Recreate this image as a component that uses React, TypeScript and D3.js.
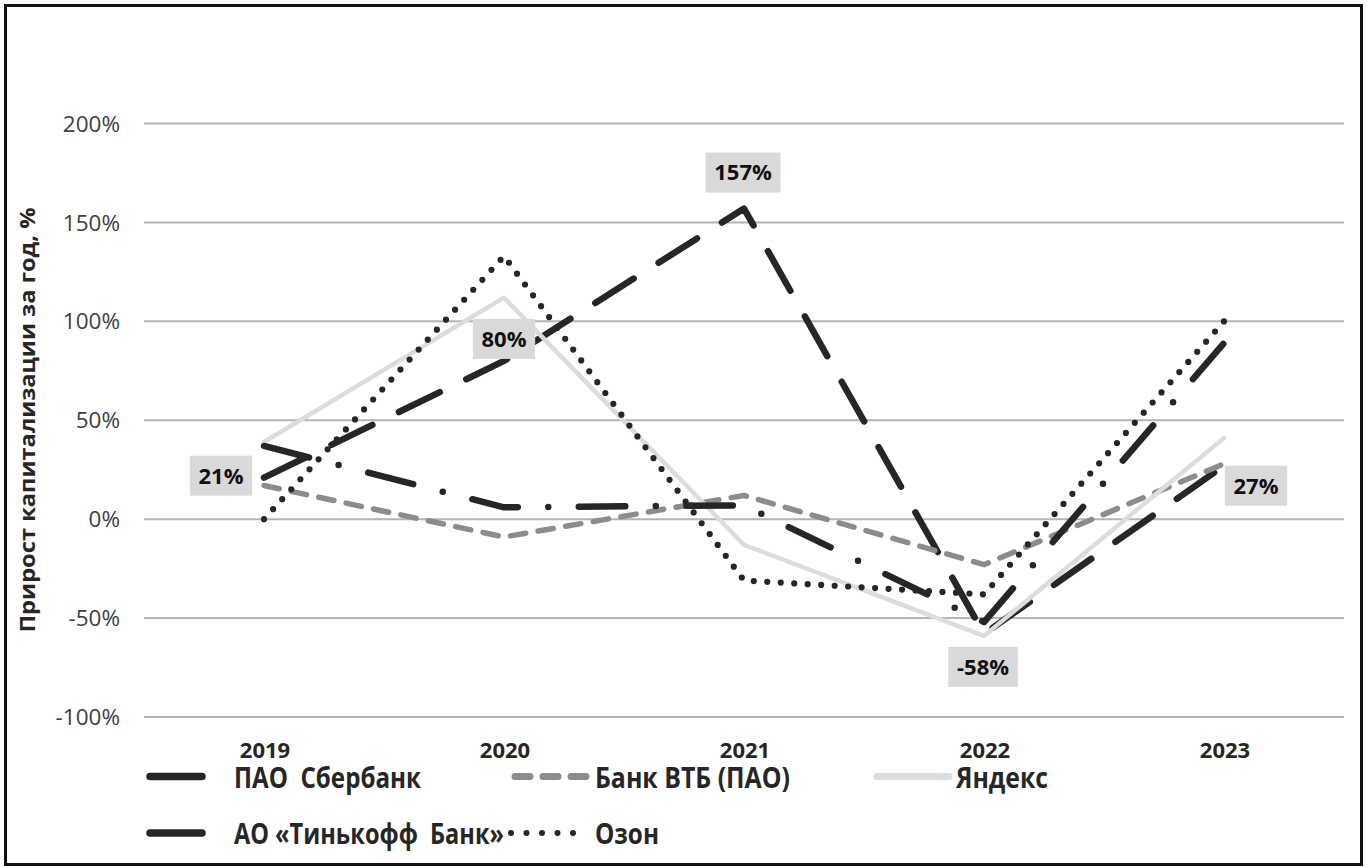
import React from 'react';
import * as d3 from 'd3';

const years = ['2019', '2020', '2021', '2022', '2023'];
const sberValues = [21, 80, 157, -58, 27];
const vtbValues = [17, -9, 12, -23, 28];
const yandexValues = [39, 112, -13, -59, 41];
const tinkoffValues = [37, 6, 7, -52, 89];
const ozonValues = [0, 133, -31, -38, 100];
const yTicks = [-100, -50, 0, 50, 100, 150, 200];
const sberLabels = ['21%', '80%', '157%', '-58%', '27%'];
const yTitle = 'Прирост капитализации за год, %';

type Series = {
  name: string;
  values: number[];
  color: string;
  width: number;
  dash?: string;
  legendDash?: string;
  legendWidth: number;
  legendTextLen: number;
};

const series: Series[] = [
  { name: 'ПАО  Сбербанк', values: sberValues, color: '#262626', width: 6.5, dash: '45.5 29.5', legendWidth: 7.5, legendTextLen: 187 },
  { name: 'Банк ВТБ (ПАО)', values: vtbValues, color: '#8c8c8c', width: 5.5, dash: '15.5 12.5', legendDash: '15 13', legendWidth: 7, legendTextLen: 195 },
  { name: 'Яндекс', values: yandexValues, color: '#dcdcdc', width: 4.5, legendWidth: 7, legendTextLen: 92 },
  { name: 'АО «Тинькофф  Банк»', values: tinkoffValues, color: '#262626', width: 6.5, dash: '46.5 30.5 0 30.5', legendWidth: 7.5, legendTextLen: 270 },
  { name: 'Озон', values: ozonValues, color: '#262626', width: 6.2, dash: '0 13.5', legendDash: '0 15.5', legendWidth: 6, legendTextLen: 64 },
];

// legend layout: [sampleX1, sampleX2, textX, baselineY]
const legendLayout = [
  [150, 202, 234, 787.5],
  [515, 587, 595, 787.5],
  [877, 949, 956, 787.5],
  [150, 202, 234, 844],
  [511, 587, 595, 844],
];

// label box centre offsets relative to point
const labelOffsets = [
  [-43, -2],
  [0, -22],
  [-1, -36],
  [-1, 33],
  [32, 20],
];

const FONT = '"Open Sans", "Noto Sans", sans-serif';

export default function App() {
  const W = 1367;
  const H = 867;
  const x = d3.scalePoint<string>().domain(years).range([264, 1224]);
  const y = d3.scaleLinear().domain([-100, 200]).range([717, 123.5]);
  const line = d3
    .line<number>()
    .x((_, i) => x(years[i]) as number)
    .y((d) => y(d));

  const gridX1 = 144;
  const gridX2 = 1344;

  const estW = (s: string) => {
    let w = 0;
    for (const c of s) {
      if (c === '%') w += 0.87;
      else if (c === '-') w += 0.33;
      else w += 0.572;
    }
    return w * 22;
  };

  return (
    <svg
      width={W}
      height={H}
      style={{ position: 'absolute', left: 0, top: 0, background: '#fff' }}
      fontFamily={FONT}
    >
      <rect x={0} y={0} width={W} height={H} fill="#fff" />
      <rect x={5.5} y={5.5} width={1356} height={859} fill="none" stroke="#111" strokeWidth={3} />

      {/* gridlines */}
      {yTicks.map((t) => (
        <line key={t} x1={gridX1} x2={gridX2} y1={y(t)} y2={y(t)} stroke="#b4b4b4" strokeWidth={2} />
      ))}

      {/* y tick labels */}
      {yTicks.map((t) => (
        <text key={t} x={120} y={y(t)} dy="0.36em" textAnchor="end" fontSize={22.5} fill="#404040">
          {`${t}%`}
        </text>
      ))}

      {/* y title */}
      <text
        transform={`translate(35, ${420}) rotate(-90)`}
        textAnchor="middle"
        fontSize={21}
        fontWeight="bold"
        fill="#262626"
        textLength={425}
        lengthAdjust="spacingAndGlyphs"
      >
        {yTitle}
      </text>

      {/* x labels */}
      {years.map((yr) => (
        <text key={yr} x={(x(yr) as number) + 1} y={758} textAnchor="middle" fontSize={22} fontWeight="bold" fill="#262626">
          {yr}
        </text>
      ))}

      {/* lines */}
      {series.map((s) => (
        <path
          key={s.name}
          d={line(s.values) || ''}
          fill="none"
          stroke={s.color}
          strokeWidth={s.width}
          strokeDasharray={s.dash}
          strokeLinecap="round"
          strokeLinejoin="round"
        />
      ))}

      {/* data labels for Sber */}
      {sberValues.map((v, i) => {
        const px = x(years[i]) as number;
        const py = y(v);
        const cx = px + labelOffsets[i][0];
        const cy = py + labelOffsets[i][1];
        const lbl = sberLabels[i];
        const tw = estW(lbl);
        const bw = tw + 18;
        const bh = 40;
        return (
          <g key={lbl}>
            <rect x={cx - bw / 2} y={cy - bh / 2} width={bw} height={bh} fill="#d9d9d9" />
            <text x={cx} y={cy} dy="0.36em" textAnchor="middle" fontSize={22} fontWeight="bold" fill="#111">
              {lbl}
            </text>
          </g>
        );
      })}

      {/* legend */}
      {series.map((s, i) => {
        const [sx1, sx2, tx, by] = legendLayout[i];
        const ly = by - 11;
        const lw = s.legendWidth;
        return (
          <g key={s.name}>
            {s.legendDash ? (
              <line
                x1={sx1}
                x2={sx2}
                y1={ly}
                y2={ly}
                stroke={s.color}
                strokeWidth={lw}
                strokeDasharray={s.legendDash}
                strokeLinecap="round"
              />
            ) : (
              <rect
                x={sx1 - lw / 2}
                y={ly - lw / 2}
                width={sx2 - sx1 + lw}
                height={lw}
                rx={lw / 2}
                ry={lw / 2}
                fill={s.color}
              />
            )}
            <text
              x={tx}
              y={by}
              fontSize={28.5}
              fontWeight="bold"
              fill="#262626"
              textLength={s.legendTextLen}
              lengthAdjust="spacingAndGlyphs"
              style={{ whiteSpace: 'pre' }}
            >
              {s.name}
            </text>
          </g>
        );
      })}
    </svg>
  );
}
